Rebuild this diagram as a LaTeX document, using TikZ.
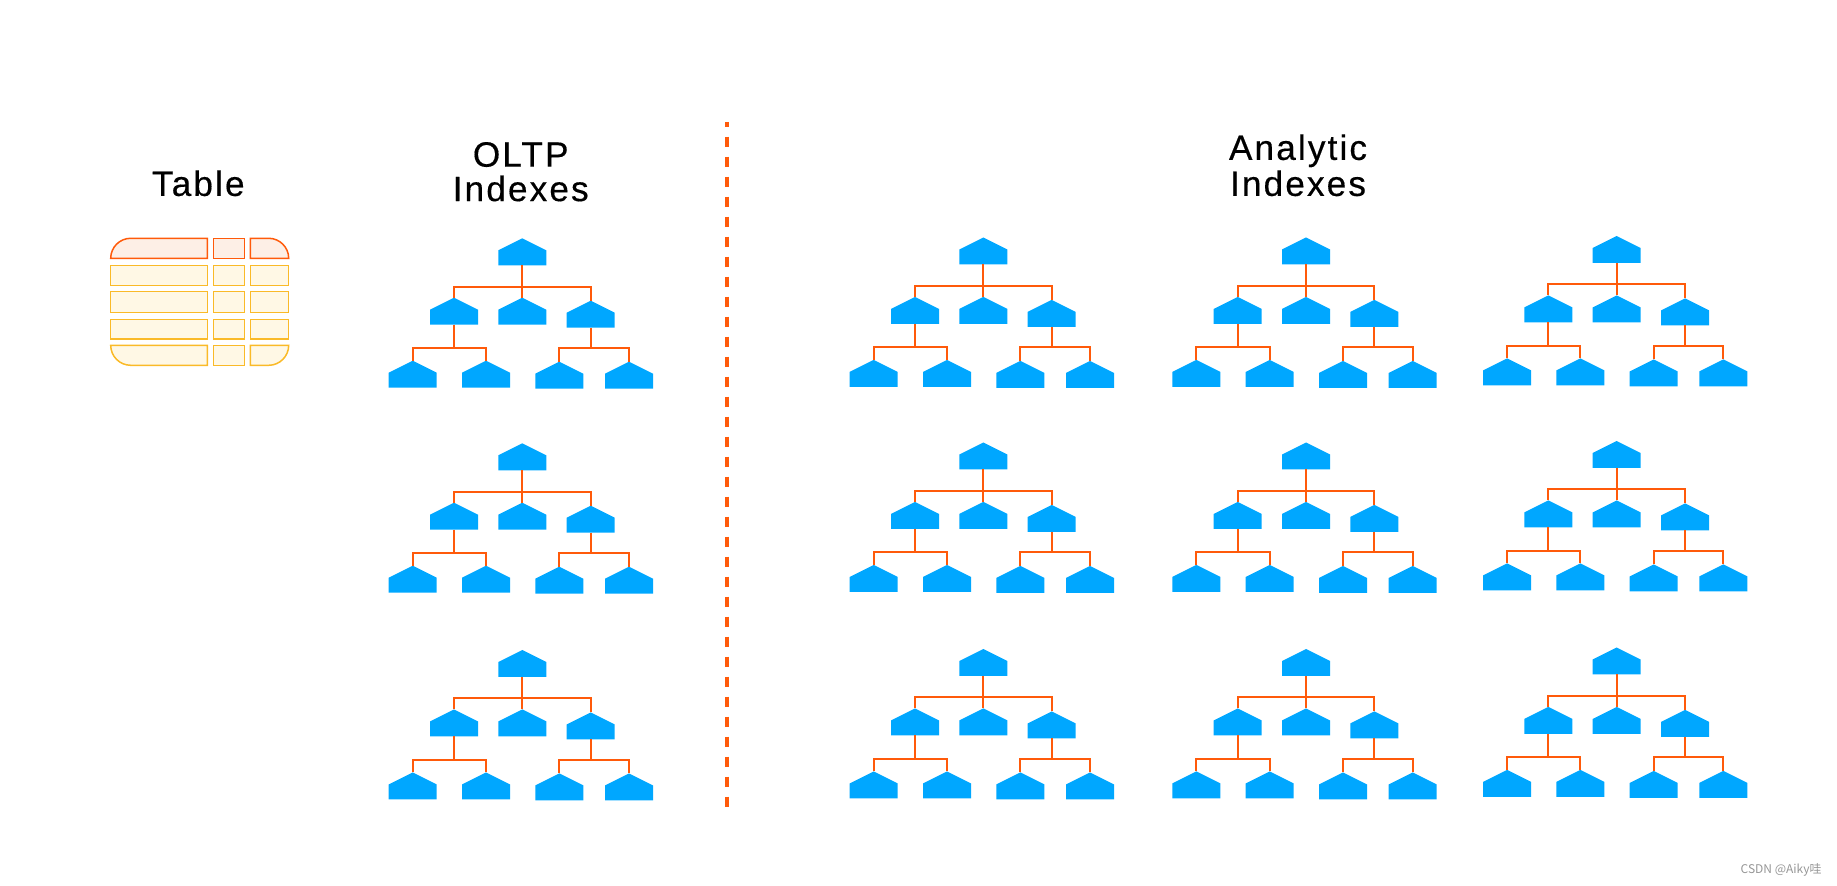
\documentclass[tikz,border=0pt]{standalone}
\usepackage{fontspec}
\newfontfamily\headfont[LetterSpace=6, FakeBold=0.4]{Liberation Sans}
\newfontfamily\cjk{Noto Sans CJK SC}

\begin{document}
\begin{tikzpicture}[x=0.5pt, y=-0.5pt,
    idx/.style={minimum width=24pt, minimum height=13.5pt, inner sep=0pt, outer sep=0pt,
      path picture={\fill[idxblue] (path picture bounding box.south west)
        -- (path picture bounding box.south east)
        -- ([yshift=-6pt]path picture bounding box.north east)
        -- (path picture bounding box.north)
        -- ([yshift=-6pt]path picture bounding box.north west) -- cycle;}},
    link/.style={draw=linkorange, line width=1pt},
    headcell/.style={draw=linkorange, fill=headfill, line width=0.75pt},
    bodycell/.style={draw=bodyline, fill=bodyfill, line width=0.75pt},
    title/.style={anchor=north, align=center, inner sep=0pt}]

    % Define colors
    \definecolor{idxblue}{RGB}{0,167,255}      % Index nodes
    \definecolor{linkorange}{RGB}{255,90,10}   % Tree links, divider
    \definecolor{headfill}{RGB}{253,239,230}   % Table header
    \definecolor{bodyfill}{RGB}{255,248,229}   % Table rows
    \definecolor{bodyline}{RGB}{250,186,40}
    \definecolor{wmgray}{RGB}{150,150,150}

    % Canvas, margins included
    \useasboundingbox (0,0) rectangle (1837,886);

    % Titles
    \node[title, font={\headfont\fontsize{17.6}{17.2}\selectfont}] (tabletitle) at (198.3,170) {Table};
    \node[title, font={\headfont\fontsize{17.6}{17.2}\selectfont}] (oltptitle) at (520.7,141.7) {OLTP\\Indexes};
    \node[title, font={\headfont\fontsize{17.6}{18}\selectfont}] (anatitle) at (1298,134) {Analytic\\Indexes};

    % Table: header row with rounded top corners
    \draw[headcell] (207.3,258.3) -- (110.7,258.3) .. controls (110.7,247.3) and (119.7,238.3) .. (130.7,238.3) -- (207.3,238.3) -- cycle;
    \draw[headcell] (213.3,238.3) rectangle (244.3,258.3);
    \draw[headcell] (250.3,258.3) -- (250.3,238.3) -- (268.7,238.3) .. controls (279.7,238.3) and (288.7,247.3) .. (288.7,258.3) -- cycle;

    % Table: plain rows
    \foreach \ya/\yb in {265.3/285.3, 291.3/312.3, 319.3/339} {
        \draw[bodycell] (110.7,\ya) rectangle (207.3,\yb);
        \draw[bodycell] (213.3,\ya) rectangle (244.3,\yb);
        \draw[bodycell] (250.3,\ya) rectangle (288.7,\yb);
    }

    % Table: last row with rounded bottom corners
    \draw[bodycell] (207.3,345.3) -- (110.7,345.3) .. controls (110.7,356.3) and (119.7,365.3) .. (130.7,365.3) -- (207.3,365.3) -- cycle;
    \draw[bodycell] (213.3,345.3) rectangle (244.3,365.3);
    \draw[bodycell] (250.3,345.3) -- (288.7,345.3) .. controls (288.7,356.3) and (279.7,365.3) .. (268.7,365.3) -- (250.3,365.3) -- cycle;

    % Divider between OLTP and analytic indexes
    \draw[linkorange, line width=2pt, dash pattern=on 5pt off 5pt, dash phase=2.65pt] (727,122) -- (727,812);

    % Index trees: root apex x / apex y
    \foreach \cx/\ty [count=\k] in {522.3/238.3, 522.3/443.3, 522.3/650,
                                    983.3/237.5, 983.3/442.5, 983.3/649,
                                    1306/237.5, 1306/442.5, 1306/649,
                                    1616.7/236, 1616.7/441, 1616.7/647.5} {
        \node[idx] (t\k-r) at (\cx, \ty+13.5) {};
        \node[idx] (t\k-a) at (\cx-68.3, \ty+72.9) {};
        \node[idx] (t\k-m) at (\cx, \ty+72.9) {};
        \node[idx] (t\k-c) at (\cx+68.4, \ty+75.9) {};
        \node[idx] (t\k-l1) at (\cx-109.6, \ty+135.9) {};
        \node[idx] (t\k-l2) at (\cx-36.3, \ty+135.9) {};
        \node[idx] (t\k-l3) at (\cx+37, \ty+136.9) {};
        \node[idx] (t\k-l4) at (\cx+106.7, \ty+136.9) {};
        \coordinate (t\k-b1) at (\cx, \ty+48.4);
        \coordinate (t\k-b2) at (\cx-68.3, \ty+110);
        \coordinate (t\k-b3) at (\cx+68.4, \ty+110);
        % root level
        \draw[link] (t\k-r.south) -- (t\k-b1) -| (t\k-a.north);
        \draw[link] (t\k-b1) -| (t\k-c.north);
        \draw[link] (t\k-b1) -- (t\k-m.north);
        % leaf level
        \draw[link] (t\k-a.south) -- (t\k-b2) -| (t\k-l1.north);
        \draw[link] (t\k-b2) -| (t\k-l2.north);
        \draw[link] (t\k-c.south) -- (t\k-b3) -| (t\k-l3.north);
        \draw[link] (t\k-b3) -| (t\k-l4.north);
    }

    % Watermark
    \node[anchor=base east, inner sep=0pt, text=wmgray, font={\cjk\fontsize{6}{7}\selectfont}] (wm) at (1822,874) {CSDN @Aiky哇};

\end{tikzpicture}
\end{document}
